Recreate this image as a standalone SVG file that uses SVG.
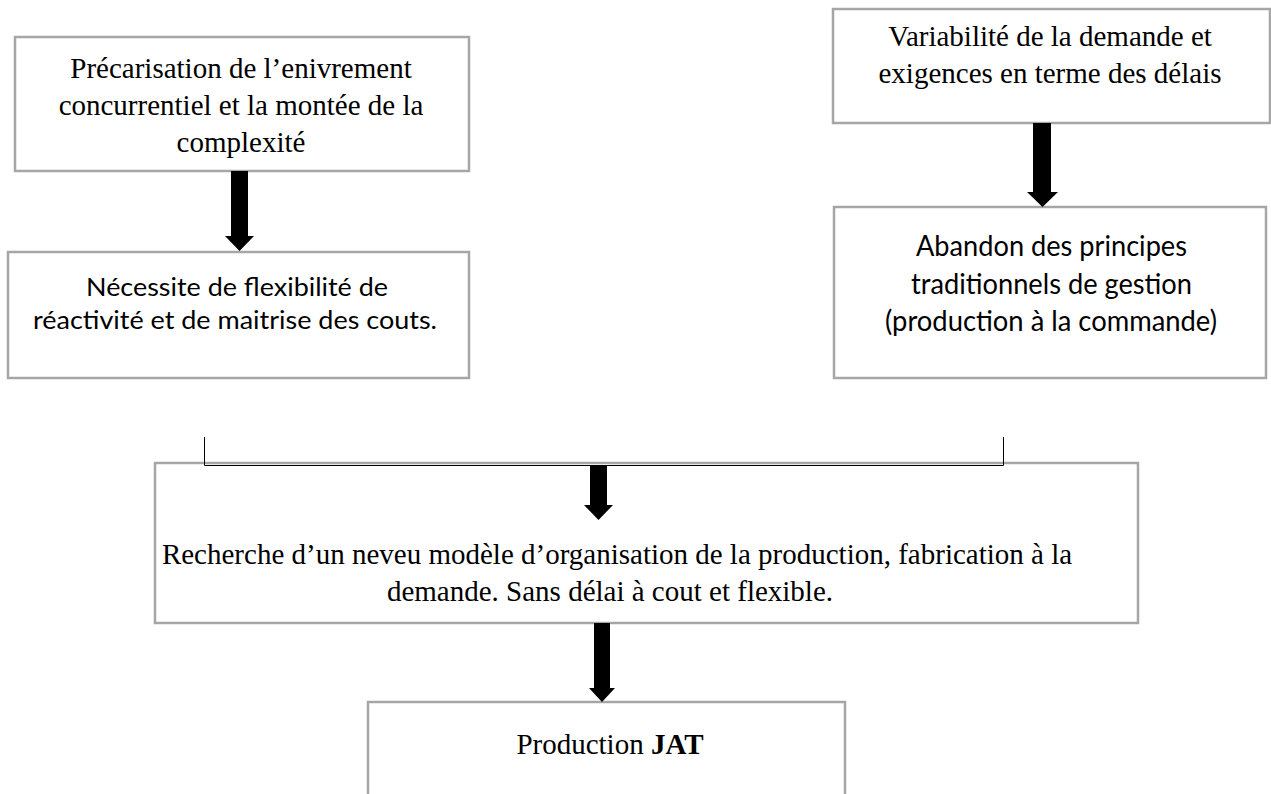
<svg xmlns="http://www.w3.org/2000/svg" width="1271" height="794" viewBox="0 0 1271 794">
<style>
.box{fill:#ffffff;stroke:#a6a6a6;stroke-width:2.5}
.tnr{font-family:"Liberation Serif","Times New Roman",serif;font-size:29px;fill:#000;text-anchor:middle}
.cal{font-family:Lato,"Noto Sans",sans-serif;fill:#000;text-anchor:middle}
.arrow{fill:#000}
.line{stroke:#000;stroke-width:1;fill:none}
</style>
<rect width="1271" height="794" fill="#ffffff"/>
<g id="node-precarisation">
<rect class="box" x="15" y="37" width="454" height="134"/>
<text class="tnr" x="241" y="78">Précarisation de l’enivrement</text>
<text class="tnr" x="241" y="115">concurrentiel et la montée de la</text>
<text class="tnr" x="241" y="152">complexité</text>
</g>
<g id="node-necessite">
<rect class="box" x="8" y="252" width="461" height="126"/>
<text class="cal" font-size="25" x="237" y="296" textLength="302" lengthAdjust="spacingAndGlyphs">Nécessite de flexibilité de</text>
<text class="cal" font-size="25" x="235" y="329" textLength="404" lengthAdjust="spacingAndGlyphs">réactivité et de maitrise des couts.</text>
</g>
<g id="node-variabilite">
<rect class="box" x="833" y="9" width="437" height="114"/>
<text class="tnr" x="1050" y="46">Variabilité de la demande et</text>
<text class="tnr" x="1050" y="83">exigences en terme des délais</text>
</g>
<g id="node-abandon">
<rect class="box" x="834" y="207" width="432" height="171"/>
<text class="cal" font-size="28" x="1051.5" y="256" textLength="271" lengthAdjust="spacingAndGlyphs">Abandon des principes</text>
<text class="cal" font-size="28" x="1051.5" y="294" textLength="281" lengthAdjust="spacingAndGlyphs">traditionnels de gestion</text>
<text class="cal" font-size="28" x="1051" y="331" textLength="332" lengthAdjust="spacingAndGlyphs">(production à la commande)</text>
</g>
<g id="node-recherche">
<rect class="box" x="155" y="463" width="983" height="160"/>
<text class="tnr" x="617" y="564">Recherche d’un neveu modèle d’organisation de la production, fabrication à la</text>
<text class="tnr" x="610" y="601">demande. Sans délai à cout et flexible.</text>
</g>
<g id="node-production">
<rect class="box" x="368" y="702" width="477" height="110"/>
<text class="tnr" x="610" y="754">Production <tspan font-weight="bold">JAT</tspan></text>
</g>
<g id="connectors">
<polygon class="arrow" points="231,171 248,171 248,236 254,236 239.5,251 225,236 231,236"/>
<polygon class="arrow" points="1033,123 1051,123 1051,192 1058,192 1042.5,207 1027,192 1033,192"/>
<path class="line" d="M204.5,437 V465.5 H1003.5 V437"/>
<polygon class="arrow" points="590,465 607,465 607,505 613,505 598.5,520 584,505 590,505"/>
<polygon class="arrow" points="594,623 610,623 610,688 615,688 602,702 589,688 594,688"/>
</g>
</svg>
